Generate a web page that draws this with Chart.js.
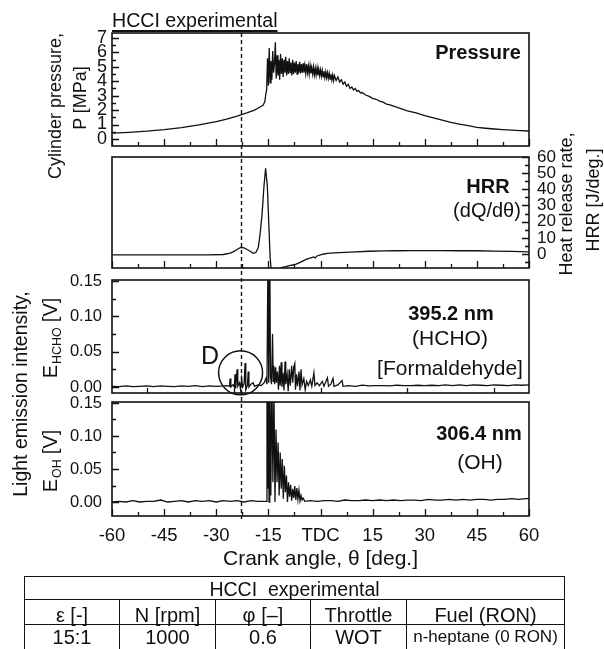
<!DOCTYPE html>
<html>
<head>
<meta charset="utf-8">
<title>HCCI experimental</title>
<script src="https://cdn.jsdelivr.net/npm/chart.js@4.4.1/dist/chart.umd.min.js"></script>
<style>
  html, body { margin: 0; padding: 0; background: #fff; }
  #page { position: relative; width: 604px; height: 649px; overflow: hidden;
          font-family: "Liberation Sans", Arial, Helvetica, sans-serif; color: #111; }
  #page canvas { position: absolute; left: 0; top: 0; }
  .t { position: absolute; white-space: nowrap; line-height: 1; transform: translate(-50%, -50%); }
  .v { position: absolute; white-space: nowrap; line-height: 1; transform: translate(-50%, -50%) rotate(-90deg); }
  .b { font-weight: bold; }
  .v sub { font-size: 12.5px; vertical-align: -4px; margin: 0 5px 0 1px; }
  #title { position: absolute; left: 112px; top: 11px; font-size: 19.6px; line-height: 1;
           text-decoration: underline; text-underline-offset: 3px; text-decoration-thickness: 1.5px;
           text-decoration-skip-ink: none; }
  #cond { position: absolute; left: 24px; top: 576px; width: 540px; border-collapse: collapse;
          table-layout: fixed; font-size: 20px; }
  #cond td { border: 1.5px solid #111; padding: 0; text-align: center; white-space: nowrap; }
  #cond tr.head td { height: 19px; line-height: 19px; padding-top: 3px; font-size: 19.5px; }
  #cond tr.names td { height: 18px; line-height: 18px; padding-top: 6px; }
  #cond tr.vals td { height: 24px; line-height: 24px; }
  #cond td.fuel { font-size: 17px; }
</style>
</head>
<body>
<div id="page">
  <canvas id="pressureChart" width="604" height="649"></canvas>
  <canvas id="hrrChart" width="604" height="649"></canvas>
  <canvas id="hchoChart" width="604" height="649"></canvas>
  <canvas id="ohChart" width="604" height="649"></canvas>

  <div id="title">HCCI experimental</div>

  <div class="v" style="left:55px;top:106px;font-size:18px">Cylinder pressure,</div>
  <div class="v" style="left:80px;top:98px;font-size:18px">P [MPa]</div>
  <div class="v" style="left:566px;top:204px;font-size:18px">Heat release rate,</div>
  <div class="v" style="left:593px;top:200px;font-size:18px">HRR [J/deg.]</div>
  <div class="v" style="left:21px;top:394px;font-size:19.5px">Light emission intensity,</div>
  <div class="v" style="left:52px;top:338px;font-size:20px">E<sub>HCHO</sub>[V]</div>
  <div class="v" style="left:52px;top:461px;font-size:20px">E<sub>OH</sub>[V]</div>

  <div class="t b" style="left:478px;top:52px;font-size:20px">Pressure</div>
  <div class="t b" style="left:488px;top:186px;font-size:20px">HRR</div>
  <div class="t" style="left:487px;top:210px;font-size:20px">(dQ/dθ)</div>
  <div class="t b" style="left:451px;top:313px;font-size:20px">395.2 nm</div>
  <div class="t" style="left:450px;top:337px;font-size:21px">(HCHO)</div>
  <div class="t" style="left:450px;top:367px;font-size:21px">[Formaldehyde]</div>
  <div class="t" style="left:210px;top:355px;font-size:25px">D</div>
  <div class="t b" style="left:479px;top:433px;font-size:20px">306.4 nm</div>
  <div class="t" style="left:480px;top:461px;font-size:21px">(OH)</div>

  <table id="cond"></table>
</div>

<script>
// ---- data ----
const pressureTicks = [0, 1, 2, 3, 4, 5, 6, 7];
const hrrTicks = [0, 10, 20, 30, 40, 50, 60];
const emissionTicks = [0, 0.05, 0.10, 0.15];
const xTickValues = [-60, -45, -30, -15, 0, 15, 30, 45, 60];
const xTickLabels = ['-60', '-45', '-30', '-15', 'TDC', '15', '30', '45', '60'];
const markAngle = -23;          // dashed line
const circleAngle = -23;        // "D" circle centre
const circleValue = 0.02;

// cylinder pressure [MPa]
const pressureAngle = [
  -60, -55, -50, -45, -40, -35, -30, -27, -24, -21,
  -19, -17.5, -16.5, -16, -15.75,
  -15.5, -15.25, -15, -14.75, -14.5, -14.25, -14, -13.75, -13.5, -13.25,
  -13, -12.75, -12.5, -12.25, -12, -11.75, -11.5, -11.25, -11, -10.75,
  -10.5, -10.25, -10, -9.75, -9.5, -9.25, -9, -8.75, -8.5, -8.25,
  -8, -7.75, -7.5, -7.25, -7, -6.75, -6.5, -6.25, -6, -5.75,
  -5.5, -5.25, -5, -4.75, -4.5, -4.25, -4, -3.75, -3.5, -3.25,
  -3, -2.75, -2.5, -2.25, -2, -1.75, -1.5, -1.25, -1, -0.75,
  -0.5, -0.25, 0, 0.25, 0.5, 0.75, 1, 1.25, 1.5, 1.75,
  2, 2.25, 2.5, 2.75, 3, 3.25, 3.5, 3.75, 4, 4.5,
  5, 5.5, 6, 6.5, 7, 7.5, 8, 8.5, 9, 9.5,
  10, 10.5, 11, 11.5, 12, 13, 14, 15, 16, 17,
  18, 19, 20, 22.5, 25, 27.5, 30, 32.5, 35, 37.5,
  40, 42.5, 45, 47.5, 50, 52.5, 55, 57.5, 60
];
const pressureValue = [
  0.40, 0.46, 0.54, 0.65, 0.79, 0.97, 1.20, 1.38, 1.58, 1.82,
  2.00, 2.20, 2.35, 2.60, 3.10,
  3.4, 5.6, 3.7, 6.3, 3.9, 5.4, 4.1, 6.1, 4.6, 5.2,
  6.7, 4.2, 5.8, 4.4, 5.5, 4.1, 5.9, 4.5, 5.6, 4.3,
  5.5, 4.6, 5.7, 4.4, 5.4, 4.5, 5.6, 4.6, 5.3, 4.4,
  5.5, 4.5, 5.3, 4.6, 5.4, 4.5, 5.2, 4.6, 5.35, 4.55,
  5.2, 4.6, 5.25, 4.6, 5.1, 4.55, 5.2, 4.6, 5.05, 4.5,
  5.1, 4.55, 4.95, 4.5, 5.0, 4.45, 4.9, 4.45, 4.95, 4.4,
  4.85, 4.4, 4.8, 4.35, 4.75, 4.3, 4.7, 4.25, 4.65, 4.25,
  4.6, 4.2, 4.55, 4.15, 4.5, 4.1, 4.45, 4.05, 4.4, 4.05,
  4.3, 3.95, 4.1, 3.8, 3.95, 3.65, 3.8, 3.5, 3.6, 3.4,
  3.5, 3.3, 3.35, 3.18, 3.22, 3.05, 2.95, 2.82, 2.75, 2.62,
  2.55, 2.42, 2.36, 2.15, 1.95, 1.8, 1.62, 1.46, 1.3, 1.15,
  1.03, 0.92, 0.80, 0.74, 0.69, 0.65, 0.61, 0.58, 0.55
];

// heat release rate [J/deg.]
const hrrAngle = [
  -60, -50, -40, -32, -28, -26, -25, -24, -23, -22,
  -21, -20, -19.4, -18.6, -17.9, -17.4, -16.8, -16.3, -15.8, -15.3,
  -14.9, -14.5, -14.1, -13, -12, -11, -10, -9, -8, -7,
  -6, -5, -4, -3, -2, -1.5, -1, 0, 1, 2,
  4, 7, 10, 14, 18, 22, 26, 30, 35, 40,
  45, 50, 55, 60
];
const hrrValue = [
  -0.5, -0.5, -0.5, -0.5, -0.3, 0.5, 1.5, 2.8, 4.0, 3.8,
  2.6, 1.4, 0.5, 0.9, 4, 12, 25, 41, 53, 42,
  20, -2, -12, -12, -9.5, -8.3, -7.8, -7.2, -6.8, -6.2,
  -5.3, -4.3, -3.2, -2.6, -1.8, -2.4, -1.2, -0.5, 0.0, 0.4,
  0.7, 1.0, 1.3, 1.7, 1.9, 2.0, 2.1, 2.1, 2.1, 2.0,
  2.0, 1.8, 1.6, 1.3
];

// HCHO emission, 395.2 nm [V]
const hchoAngle = [
  -60, -58, -56, -54, -52, -50, -48, -46, -44, -42,
  -40, -38, -36, -34, -32, -30, -28, -27, -26.2, -26.0,
  -25.8, -25.2, -24.8, -24.6, -24.4, -24.0, -23.8, -23.3, -23.0, -22.7,
  -22.4, -22.0, -21.7, -21.5, -21.0, -20.8, -20.6, -20.0, -19.4, -19.0,
  -18.0, -17.0, -16.2, -15.7, -15.4, -15.1, -14.9, -14.6, -14.4, -14.1,
  -13.8, -13.6, -13.4, -13.2, -12.9, -12.7, -12.4, -12.1, -11.8, -11.6,
  -11.3, -11.1, -10.8, -10.5, -10.2, -10.0, -9.6, -9.3, -9.0, -8.7,
  -8.3, -8.0, -7.7, -7.4, -7.2, -6.9, -6.6, -6.2, -5.9, -5.6,
  -5.3, -4.8, -4.4, -4.0, -3.5, -2.9, -2.5, -1.9, -1.6, -1.0,
  -0.3, 0.5, 1.0, 2.0, 2.3, 3.0, 3.6, 3.9, 5.0, 6.2,
  6.5, 8, 10, 12, 14, 16, 18, 20, 22, 24,
  26, 28, 30, 32, 34, 36, 38, 40, 42, 44,
  46, 48, 50, 52, 54, 56, 58, 60
];
const hchoValue = [
  0.001, 0.0005, 0.0015, 0.0005, 0.001, 0.0015, 0.0005, 0.0015, 0.001, 0.0005,
  0.0015, 0.001, 0.002, 0.0005, 0.0015, 0.001, 0.0015, 0.002, 0.001, 0.012,
  0.000, 0.003, 0.000, 0.018, -0.002, 0.025, 0.001, 0.006, -0.004, 0.012,
  0.000, 0.004, 0.034, -0.004, 0.003, 0.022, 0.000, 0.004, 0.006, 0.001,
  0.003, 0.002, 0.006, 0.012, 0.004, 0.200, 0.006, 0.200, 0.015, 0.004,
  0.075, 0.008, 0.030, 0.004, 0.028, 0.006, 0.022, -0.004, 0.030, 0.002,
  0.035, 0.000, 0.020, -0.005, 0.036, 0.004, 0.018, -0.006, 0.025, 0.002,
  0.030, 0.006, 0.028, 0.033, -0.004, 0.018, 0.001, 0.022, -0.005, 0.025,
  0.003, 0.012, -0.004, 0.008, 0.002, 0.010, 0.001, 0.020, 0.002, 0.006,
  0.002, 0.008, 0.001, 0.013, 0.001, 0.004, 0.012, 0.001, 0.003, 0.009,
  0.001, 0.002, 0.001, 0.0025, 0.0015, 0.002, 0.002, 0.0015, 0.0025, 0.002,
  0.002, 0.0025, 0.002, 0.0025, 0.002, 0.003, 0.002, 0.003, 0.002, 0.003,
  0.0025, 0.002, 0.003, 0.0025, 0.002, 0.003, 0.0025, 0.003
];

// OH emission, 306.4 nm [V]
const ohAngle = [
  -60, -58, -56, -54, -52, -50, -48, -46, -44, -42,
  -40, -38, -36, -34, -32, -30, -28, -26, -24, -22,
  -20, -18, -16, -15.6, -15.4, -15.2, -15.0, -14.8, -14.6, -14.3,
  -14.0, -13.7, -13.4, -13.1, -12.8, -12.5, -12.2, -11.9, -11.6, -11.3,
  -11.0, -10.7, -10.4, -10.1, -9.8, -9.5, -9.2, -8.9, -8.6, -8.3,
  -8.0, -7.7, -7.4, -7.1, -6.8, -6.5, -6.2, -5.9, -5.6, -5.3,
  -5.0, -4.5, -3, -1, 1, 3, 5, 7, 9, 11,
  13, 15, 17, 19, 21, 23, 25, 27, 29, 31,
  33, 35, 37, 39, 41, 43, 45, 47, 49, 51,
  53, 55, 57, 59, 60
];
const ohValue = [
  0.000, 0.001, 0.000, 0.002, 0.000, 0.001, 0.001, 0.003, 0.000, 0.001,
  0.002, 0.000, 0.002, 0.001, 0.002, 0.000, 0.002, 0.001, 0.002, 0.000,
  0.002, 0.001, 0.001, 0.001, 0.200, 0.020, 0.200, 0.000, 0.200, 0.010,
  0.200, 0.030, 0.170, 0.000, 0.110, 0.030, 0.090, 0.010, 0.075, 0.020,
  0.065, 0.005, 0.055, 0.015, 0.040, 0.000, 0.030, 0.008, 0.026, 0.002,
  0.020, 0.006, 0.024, 0.003, 0.021, 0.004, 0.018, 0.002, 0.010, 0.003,
  0.006, 0.001, 0.002, 0.001, 0.002, 0.002, 0.001, 0.003, 0.002, 0.002,
  0.003, 0.002, 0.003, 0.002, 0.003, 0.002, 0.003, 0.003, 0.002, 0.004,
  0.003, 0.003, 0.004, 0.003, 0.004, 0.003, 0.004, 0.004, 0.003, 0.004,
  0.004, 0.005, 0.004, 0.005, 0.005
];

// operating conditions table
const conditionTitle = 'HCCI\u00a0 experimental';
const conditionNames = ['ε [-]', 'N [rpm]', 'φ [–]', 'Throttle', 'Fuel (RON)'];
const conditionValues = ['15:1', '1000', '0.6', 'WOT', 'n-heptane (0 RON)'];

// ---- drawing ----
Chart.defaults.font.family = '"Liberation Sans", Arial, Helvetica, sans-serif';
Chart.defaults.color = '#111';

function points(angles, values) {
  return angles.map((a, i) => ({ x: a, y: values[i] }));
}

// box around the plot area with inward tick marks
function framePlugin(cfg) {
  return {
    id: 'frame',
    afterDatasetsDraw(chart) {
      const { ctx, chartArea: area } = chart;
      const xs = chart.scales.x, ys = chart.scales.y;
      ctx.save();
      ctx.strokeStyle = '#111';
      ctx.lineWidth = 1.6;
      ctx.strokeRect(area.left, area.top, area.right - area.left, area.bottom - area.top);
      ctx.lineWidth = 1.3;
      ctx.beginPath();
      (cfg.xTicks || []).forEach(t => {
        for (let i = 0; ; i++) {
          const v = t.from + i * t.step;
          if (v > xs.max + 1e-9) break;
          const px = Math.round(xs.getPixelForValue(v)) + 0.5;
          ctx.moveTo(px, area.bottom);
          ctx.lineTo(px, area.bottom - t.len);
        }
      });
      (cfg.yTicks || []).forEach(t => {
        const edge = t.side === 'right' ? area.right : area.left;
        const dir = t.side === 'right' ? -1 : 1;
        for (let i = 0; ; i++) {
          const v = t.from + i * t.step;
          if (v > ys.max + 1e-9) break;
          const py = Math.round(ys.getPixelForValue(v)) + 0.5;
          ctx.moveTo(edge, py);
          ctx.lineTo(edge + dir * t.len, py);
        }
      });
      ctx.stroke();
      ctx.restore();
    }
  };
}

// dashed crank-angle marker running through all panels
const markerPlugin = {
  id: 'marker',
  afterDatasetsDraw(chart) {
    const { ctx, chartArea: area } = chart;
    const px = Math.round(chart.scales.x.getPixelForValue(markAngle)) + 0.5;
    ctx.save();
    ctx.strokeStyle = '#111';
    ctx.lineWidth = 1.4;
    ctx.setLineDash([4, 3]);
    ctx.beginPath();
    ctx.moveTo(px, area.top);
    ctx.lineTo(px, 519);
    ctx.stroke();
    ctx.restore();
  }
};

// circle around region "D"
const circlePlugin = {
  id: 'circleD',
  afterDatasetsDraw(chart) {
    const { ctx } = chart;
    const cx = chart.scales.x.getPixelForValue(circleAngle);
    const cy = chart.scales.y.getPixelForValue(circleValue);
    ctx.save();
    ctx.strokeStyle = '#111';
    ctx.lineWidth = 1.5;
    ctx.beginPath();
    ctx.arc(cx, cy, 22, 0, Math.PI * 2);
    ctx.stroke();
    ctx.restore();
  }
};

function hiddenX() {
  return { type: 'linear', min: -60, max: 60, display: false };
}

function valueAxis(side, min, max, ticks, fmt, size, padding) {
  return {
    type: 'linear', position: side, min: min, max: max,
    afterBuildTicks: s => { s.ticks = ticks.map(v => ({ value: v })); },
    afterFit: s => { s.width = side === 'left' ? 112 : 75; },
    grid: { display: false, drawTicks: false },
    border: { display: false },
    ticks: { autoSkip: false, padding: padding, font: { size: size }, callback: fmt }
  };
}

function makePanel(id, series, yScale, xScale, pad, plugins) {
  return new Chart(document.getElementById(id), {
    type: 'line',
    data: {
      datasets: [{
        data: series,
        borderColor: '#111',
        borderWidth: 1.3,
        pointRadius: 0,
        tension: 0
      }]
    },
    options: {
      responsive: false,
      animation: false,
      events: [],
      layout: { padding: pad },
      plugins: { legend: { display: false }, tooltip: { enabled: false } },
      scales: { x: xScale, y: yScale }
    },
    plugins: plugins
  });
}

const xMajor = { from: -60, step: 15, len: 7 };
const xMinor = { from: -52.5, step: 15, len: 4 };

makePanel('pressureChart', points(pressureAngle, pressureValue),
  valueAxis('left', -0.49, 7.35, pressureTicks, v => String(v), 18, 5),
  hiddenX(),
  { top: 33, bottom: 649 - 146, left: 0, right: 75 },
  [framePlugin({
    xTicks: [xMajor, xMinor],
    yTicks: [{ side: 'left', from: 0, step: 1, len: 7 }, { side: 'left', from: 0.5, step: 1, len: 4 }]
  }), markerPlugin]);

makePanel('hrrChart', points(hrrAngle, hrrValue),
  valueAxis('right', -8.66, 60, hrrTicks, v => String(v), 17, 8),
  hiddenX(),
  { top: 157, bottom: 649 - 268, left: 112, right: 0 },
  [framePlugin({
    xTicks: [xMajor, xMinor],
    yTicks: [{ side: 'right', from: 0, step: 10, len: 7 }, { side: 'right', from: -5, step: 10, len: 4 }]
  })]);

makePanel('hchoChart', points(hchoAngle, hchoValue),
  valueAxis('left', -0.0085, 0.1514, emissionTicks, v => v.toFixed(2), 16.5, 10),
  hiddenX(),
  { top: 280, bottom: 649 - 393, left: 0, right: 75 },
  [framePlugin({
    xTicks: [{ from: -50, step: 25, len: 5 }],
    yTicks: [{ side: 'left', from: 0, step: 0.05, len: 7 }, { side: 'left', from: 0.025, step: 0.05, len: 4 }]
  }), circlePlugin]);

makePanel('ohChart', points(ohAngle, ohValue),
  valueAxis('left', -0.0212, 0.1515, emissionTicks, v => v.toFixed(2), 16.5, 10),
  {
    type: 'linear', min: -60, max: 60, position: 'bottom',
    afterBuildTicks: s => { s.ticks = xTickValues.map(v => ({ value: v })); },
    afterFit: s => { s.height = 60; },
    grid: { display: false, drawTicks: false },
    border: { display: false },
    ticks: { autoSkip: false, maxRotation: 0, padding: 9, font: { size: 18.5 },
             callback: (v, i) => xTickLabels[i] },
    title: { display: true, text: 'Crank angle, θ [deg.]', font: { size: 21 }, padding: 4 }
  },
  { top: 402, bottom: 649 - 516 - 60, left: 0, right: 75 },
  [framePlugin({
    xTicks: [xMajor, xMinor],
    yTicks: [{ side: 'left', from: 0, step: 0.05, len: 7 }, { side: 'left', from: 0.025, step: 0.05, len: 4 }]
  })]);

// conditions table
const colWidths = [95, 96, 95, 96, 158];
const table = document.getElementById('cond');
table.innerHTML =
  '<colgroup>' + colWidths.map(w => '<col style="width:' + w + 'px">').join('') + '</colgroup>' +
  '<tr class="head"><td colspan="5">' + conditionTitle + '</td></tr>' +
  '<tr class="names">' + conditionNames.map(n => '<td>' + n + '</td>').join('') + '</tr>' +
  '<tr class="vals">' + conditionValues.map((v, i) =>
    '<td' + (i === 4 ? ' class="fuel"' : '') + '>' + v + '</td>').join('') + '</tr>';
</script>
</body>
</html>
